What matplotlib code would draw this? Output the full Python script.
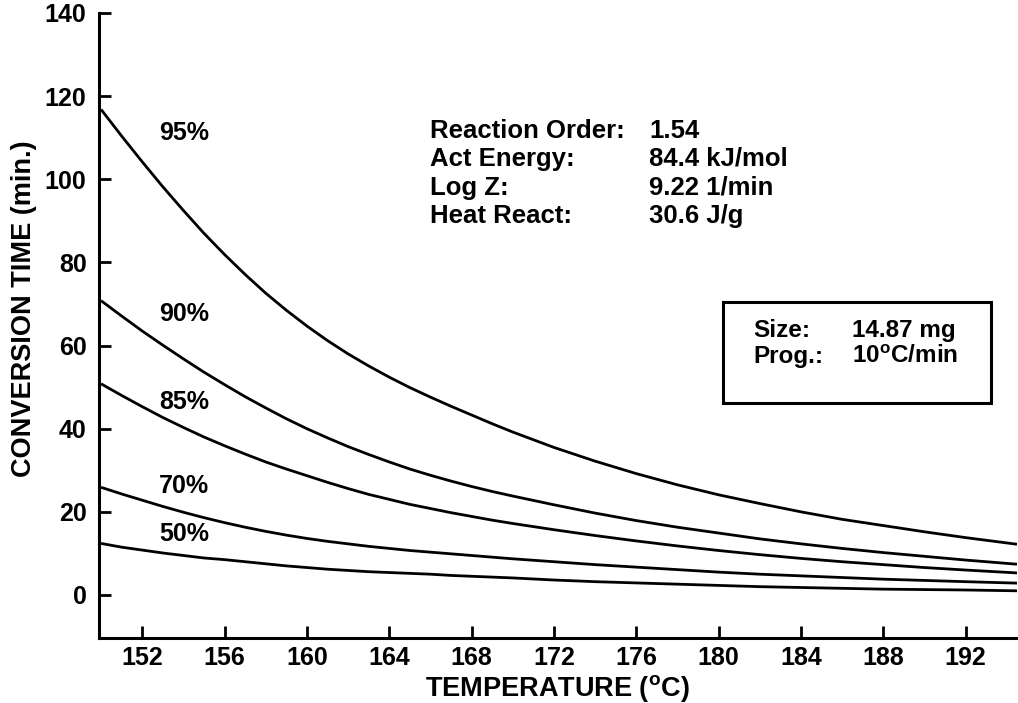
import matplotlib
matplotlib.use("Agg")
import matplotlib.pyplot as plt
from matplotlib.patches import Rectangle

plt.rcParams['font.family'] = ['Liberation Sans', 'DejaVu Sans']
plt.rcParams['font.weight'] = 'bold'
plt.rcParams['mathtext.fontset'] = 'custom'
plt.rcParams['mathtext.rm'] = 'Liberation Sans:bold'
plt.rcParams['mathtext.it'] = 'Liberation Sans:bold'
plt.rcParams['mathtext.bf'] = 'Liberation Sans:bold'

# temperatures (C) where the curves were read
temps = [150, 151, 152, 153, 154, 155, 156, 157, 158, 159, 160, 161, 162, 163, 164,
         165, 166, 167, 168, 169, 170, 172, 174, 176, 178, 180, 182, 184, 186, 188,
         190, 192, 194.5]

# conversion time (min) for each conversion level
t95 = [116.8, 110.4, 104.2, 98.2, 92.5, 87.0, 81.9, 77.1, 72.6, 68.5, 64.7, 61.2, 58.0,
       55.1, 52.4, 49.9, 47.6, 45.4, 43.3, 41.2, 39.2, 35.5, 32.2, 29.2, 26.5, 24.1,
       22.0, 20.0, 18.2, 16.7, 15.2, 13.8, 12.2]
t90 = [70.8, 67.1, 63.5, 60.1, 56.8, 53.6, 50.6, 47.7, 45.0, 42.4, 40.0, 37.8, 35.7,
       33.8, 32.0, 30.3, 28.8, 27.4, 26.1, 24.9, 23.8, 21.7, 19.7, 17.9, 16.3, 14.9,
       13.5, 12.3, 11.2, 10.2, 9.3, 8.4, 7.4]
t85 = [50.8, 48.0, 45.3, 42.7, 40.3, 38.0, 35.9, 33.9, 32.0, 30.3, 28.7, 27.1, 25.6,
       24.2, 23.0, 21.8, 20.8, 19.8, 18.9, 18.0, 17.2, 15.7, 14.3, 13.0, 11.8, 10.7,
       9.7, 8.8, 8.0, 7.3, 6.6, 6.0, 5.3]
t70 = [25.9, 24.3, 22.8, 21.3, 19.9, 18.6, 17.4, 16.3, 15.3, 14.4, 13.6, 12.9, 12.3,
       11.7, 11.2, 10.7, 10.3, 9.9, 9.5, 9.1, 8.7, 8.0, 7.3, 6.7, 6.1, 5.5,
       5.0, 4.6, 4.2, 3.8, 3.5, 3.2, 2.85]
t50 = [12.4, 11.5, 10.8, 10.1, 9.5, 8.9, 8.5, 8.0, 7.5, 7.0, 6.6, 6.2, 5.9,
       5.6, 5.4, 5.2, 5.0, 4.7, 4.5, 4.3, 4.1, 3.6, 3.2, 2.9, 2.6, 2.3,
       2.0, 1.8, 1.6, 1.4, 1.3, 1.2, 1.0]

curve_labels = ["95%", "90%", "85%", "70%", "50%"]
xticks = list(range(152, 193, 4))
yticks = list(range(0, 141, 20))

params = ["Reaction Order:", "Act Energy:", "Log Z:", "Heat React:"]
param_values = ["1.54", "84.4 kJ/mol", "9.22 1/min", "30.6 J/g"]
sample_keys = ["Size:", "Prog.:"]
sample_values = ["14.87 mg", r"10$^{\mathrm{o}}$C/min"]

W, H = 1018, 703
fig = plt.figure(figsize=(W / 100, H / 100), dpi=100)
ax = fig.add_axes([99 / W, 1 - 638 / H, (1017 - 99) / W, (638 - 13) / H])


def fx(px):
    return px / W


def fy(py):
    return 1 - py / H


for ys in [t95, t90, t85, t70, t50]:
    ax.plot(temps, ys, color="black", lw=2.0, solid_capstyle="butt")

ax.set_xlim(149.9, 194.5)
ax.set_ylim(-10.35, 140)
ax.set_xticks(xticks)
ax.set_yticks(yticks)
ax.spines["top"].set_visible(False)
ax.spines["right"].set_visible(False)
for s in ["left", "bottom"]:
    ax.spines[s].set_linewidth(2.2)
ax.tick_params(axis="both", direction="in", length=8.5, width=2, labelsize=18)
ax.tick_params(axis="y", pad=9)
ax.tick_params(axis="x", pad=6)
for lab in ax.get_xticklabels() + ax.get_yticklabels():
    lab.set_fontweight("bold")

ax.set_xlabel(r"TEMPERATURE ($^{\mathrm{o}}$C)", fontsize=19.5, fontweight="bold", va="center")
ax.set_ylabel("CONVERSION TIME (min.)", fontsize=19.5, fontweight="bold", va="center")
ax.xaxis.set_label_coords((557 - 99) / 918, (638 - 688) / 625)
ax.yaxis.set_label_coords((24 - 99) / 918, (638 - 309) / 625)

# curve labels
label_y = [133, 314, 402, 486, 534]
for txt, py in zip(curve_labels, label_y):
    fig.text(fx(184), fy(py), txt, ha="center", va="center", fontsize=18, fontweight="bold")

# kinetic parameters (baseline aligned)
for i, (k, v) in enumerate(zip(params, param_values)):
    py = 137.5 + i * 28.5
    fig.text(fx(430), fy(py), k, ha="left", va="baseline", fontsize=18.5, fontweight="bold")
    fig.text(fx(649), fy(py), v, ha="left", va="baseline", fontsize=18.5, fontweight="bold")

# sample box
fig.patches.append(Rectangle((fx(723), fy(403)), fx(991) - fx(723), fy(302) - fy(403),
                             transform=fig.transFigure, fill=False, lw=2.2, ec="black"))
for i, (k, v) in enumerate(zip(sample_keys, sample_values)):
    py = 337 + i * 26
    fig.text(fx(753), fy(py), k, ha="left", va="baseline", fontsize=17.5, fontweight="bold")
    fig.text(fx(852), fy(py), v, ha="left", va="baseline", fontsize=17.5, fontweight="bold")

fig.savefig("out.png", dpi=100)
